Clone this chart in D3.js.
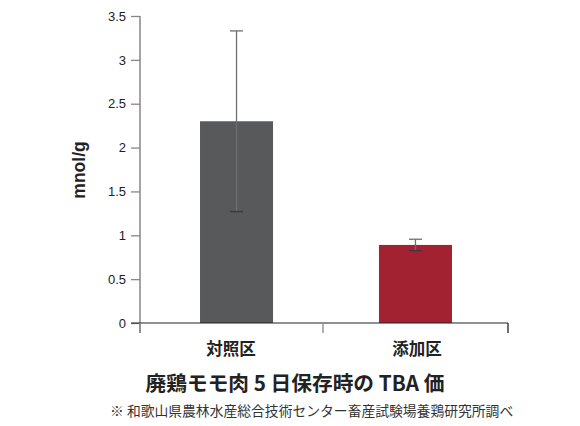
<!DOCTYPE html>
<html>
<head>
<meta charset="utf-8">
<script src="https://cdn.jsdelivr.net/npm/d3@7"></script>
<style>
  body { margin: 0; background: #fff; }
  svg { display: block; }
</style>
</head>
<body>
<svg width="580" height="426"></svg>
<script>
const categories = ["対照区", "添加区"];
const values = [2.30, 0.89];
const errors = [1.03, 0.065];
const colors = ["#58595b", "#a22232"];
const yTicks = [0, 0.5, 1, 1.5, 2, 2.5, 3, 3.5];

const svg = d3.select("svg");
const jp = "'Noto Sans CJK JP', sans-serif";

const x = d3.scaleBand().domain(categories).range([144, 508]).paddingInner(0.592).paddingOuter(0.313);
const y = d3.scaleLinear().domain([0, 3.5]).range([323, 16]);

// bars
svg.selectAll(".bar")
  .data(values)
  .enter().append("rect")
  .attr("class", "bar")
  .attr("x", (d, i) => x(categories[i]))
  .attr("y", d => y(d))
  .attr("width", x.bandwidth())
  .attr("height", d => y(0) - y(d))
  .attr("fill", (d, i) => colors[i]);

// error bars
const eb = svg.selectAll(".err")
  .data(values)
  .enter().append("g")
  .attr("class", "err")
  .attr("stroke", "#6d6e70")
  .attr("stroke-width", 1.3);
const cx = (d, i) => x(categories[i]) + x.bandwidth() / 2;
eb.append("line")
  .attr("x1", cx).attr("x2", cx)
  .attr("y1", (d, i) => y(d + errors[i]))
  .attr("y2", (d, i) => y(d - errors[i]));
eb.append("line")
  .attr("x1", (d, i) => cx(d, i) - 6.5).attr("x2", (d, i) => cx(d, i) + 6.5)
  .attr("y1", (d, i) => y(d + errors[i]))
  .attr("y2", (d, i) => y(d + errors[i]));
eb.append("line")
  .attr("x1", (d, i) => cx(d, i) - 6.5).attr("x2", (d, i) => cx(d, i) + 6.5)
  .attr("y1", (d, i) => y(d - errors[i]))
  .attr("y2", (d, i) => y(d - errors[i]))
  .attr("stroke", "#3a3a3c");

// y axis
const yAxis = svg.append("g")
  .attr("transform", "translate(140,0)")
  .call(d3.axisLeft(y).tickValues(yTicks).tickSize(9).tickPadding(5).tickFormat(d3.format("")));
yAxis.select(".domain").remove();
yAxis.selectAll(".tick line").attr("stroke", "#8a8586").attr("stroke-width", 1.3);
yAxis.selectAll(".tick text")
  .attr("font-family", "'Liberation Sans', Arial, sans-serif")
  .attr("font-size", 13).attr("fill", "#222");
svg.append("line")
  .attr("x1", 140).attr("x2", 140)
  .attr("y1", y(3.5)).attr("y2", 333)
  .attr("stroke", "#8a8586").attr("stroke-width", 1.5);

// x axis
svg.append("line")
  .attr("x1", 131).attr("x2", 508)
  .attr("y1", y(0)).attr("y2", y(0))
  .attr("stroke", "#222").attr("stroke-width", 1.2);
const sep = [140, 323, 508];
svg.selectAll(".sep")
  .data(sep)
  .enter().append("line")
  .attr("x1", d => d).attr("x2", d => d)
  .attr("y1", y(0)).attr("y2", 333)
  .attr("stroke", (d, i) => i === 2 ? "#222" : "#8a8586")
  .attr("stroke-width", 1.3);

svg.selectAll(".cat")
  .data(categories)
  .enter().append("text")
  .attr("x", (d, i) => [231, 417][i])
  .attr("y", 355)
  .attr("text-anchor", "middle")
  .attr("font-family", jp)
  .attr("font-weight", "bold")
  .attr("font-size", 16.5)
  .attr("fill", "#222")
  .text(d => d);

// y label
svg.append("text")
  .attr("transform", "translate(85,170) rotate(-90)")
  .attr("text-anchor", "middle")
  .attr("font-family", "'Liberation Sans', Arial, sans-serif")
  .attr("font-weight", "bold")
  .attr("font-size", 17.5)
  .attr("fill", "#222")
  .text("mnol/g");

// title
svg.append("text")
  .attr("x", 295).attr("y", 391)
  .attr("text-anchor", "middle")
  .attr("font-family", jp)
  .attr("font-weight", "bold")
  .attr("font-size", 20.7)
  .attr("fill", "#222")
  .text("廃鶏モモ肉 5 日保存時の TBA 価");

// note
svg.append("text")
  .attr("x", 110).attr("y", 416)
  .attr("font-family", jp)
  .attr("font-size", 13.8)
  .attr("fill", "#333")
  .text("※ 和歌山県農林水産総合技術センター畜産試験場養鶏研究所調べ");
</script>
</body>
</html>
